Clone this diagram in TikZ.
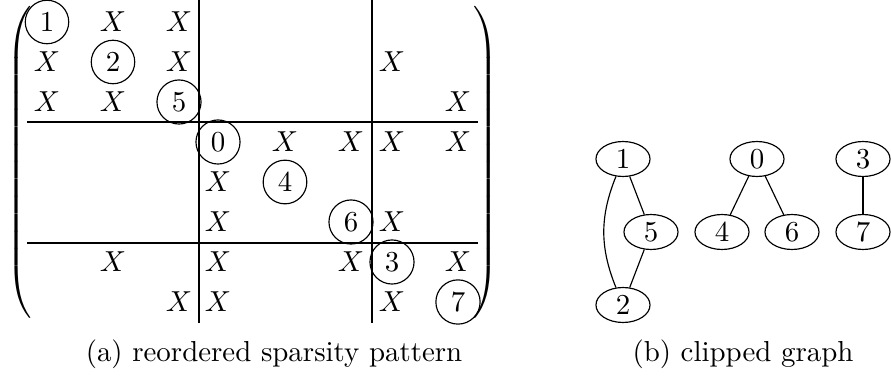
\documentclass[tikz,border=0pt]{standalone}
\usepackage{amsmath,amssymb}
\usepackage{tikz}
\usetikzlibrary{positioning,shapes.geometric}
\tikzset{
  entry/.style={inner sep=0pt, font=\normalsize},
  pivot/.style={draw, circle, inner sep=2.4pt, font=\normalsize},
  vtx/.style={draw, ellipse, minimum width=18.7pt, minimum height=12.1pt, inner sep=0pt},
  sepline/.style={line width=0.4pt},
  bigdelim/.style={inner sep=0pt},
}
\newcommand{\delimstrut}{\vcenter{\hbox{\vrule height 110pt width 0pt}}}

\begin{document}
\begin{tikzpicture}[x=0.346pt,y=-0.346pt]
  \useasboundingbox (0,0) rectangle (891,377);
  % reordered matrix
  \node[pivot] (p1) at (47,22) {1};
  \node[entry] (a12) at (113,22) {$X$};
  \node[entry] (a13) at (179,22) {$X$};
  \node[entry] (a21) at (47,62) {$X$};
  \node[pivot] (p2) at (113,62) {2};
  \node[entry] (a23) at (179,62) {$X$};
  \node[entry] (a27) at (392,62) {$X$};
  \node[entry] (a31) at (47,102) {$X$};
  \node[entry] (a32) at (113,102) {$X$};
  \node[pivot] (p5) at (179,102) {5};
  \node[entry] (a38) at (458,102) {$X$};
  \node[pivot] (p0) at (218,142) {0};
  \node[entry] (a45) at (285,142) {$X$};
  \node[entry] (a46) at (351,142) {$X$};
  \node[entry] (a47) at (392,142) {$X$};
  \node[entry] (a48) at (458,142) {$X$};
  \node[entry] (a54) at (218,182) {$X$};
  \node[pivot] (p4) at (285,182) {4};
  \node[entry] (a64) at (218,222) {$X$};
  \node[pivot] (p6) at (351,222) {6};
  \node[entry] (a67) at (392,222) {$X$};
  \node[entry] (a72) at (113,262) {$X$};
  \node[entry] (a74) at (218,262) {$X$};
  \node[entry] (a76) at (351,262) {$X$};
  \node[pivot] (p3) at (392,262) {3};
  \node[entry] (a78) at (458,262) {$X$};
  \node[entry] (a83) at (179,302) {$X$};
  \node[entry] (a84) at (218,302) {$X$};
  \node[entry] (a87) at (392,302) {$X$};
  \node[pivot] (p7) at (458,302) {7};
  % block separators
  \coordinate (vtop1) at (199,0);   \coordinate (vbot1) at (199,323);
  \coordinate (vtop2) at (372,0);   \coordinate (vbot2) at (372,323);
  \coordinate (hl1) at (27,122);    \coordinate (hr1) at (478,122);
  \coordinate (hl2) at (27,243);    \coordinate (hr2) at (478,243);
  \draw[sepline] (vtop1) -- (vbot1);
  \draw[sepline] (vtop2) -- (vbot2);
  \draw[sepline] (hl1) -- (hr1);
  \draw[sepline] (hl2) -- (hr2);
  \node[bigdelim] (lpar) at (21,162) {$\left(\delimstrut\right.$};
  \node[bigdelim] (rpar) at (484,162) {$\left.\delimstrut\right)$};
  \node (capa) at (274,354) {(a) reordered sparsity pattern};

  % clipped graph
  \node[vtx] (v1) at (623,159) {1};
  \node[vtx] (v5) at (651,232) {5};
  \node[vtx] (v2) at (623,305) {2};
  \node[vtx] (v0) at (757,159) {0};
  \node[vtx] (v4) at (722,232) {4};
  \node[vtx] (v6) at (792,232) {6};
  \node[vtx] (v3) at (863,159) {3};
  \node[vtx] (v7) at (863,232) {7};
  \draw (v1) -- (v5);
  \draw (v5) -- (v2);
  \draw (v1) to[bend right=22] (v2);
  \draw (v0) -- (v4);
  \draw (v0) -- (v6);
  \draw (v3) -- (v7);
  \node (capb) at (743,354) {(b) clipped graph};
\end{tikzpicture}
\end{document}
